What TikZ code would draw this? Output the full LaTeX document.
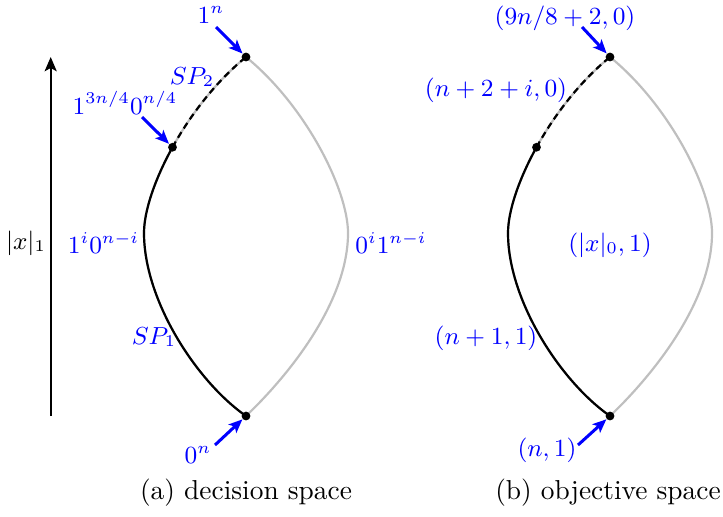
\documentclass[tikz,border=0pt]{standalone}
\usetikzlibrary{arrows.meta}
\newcommand{\lenspanel}[1]{%
  \coordinate (#1B) at (246,416);
  \coordinate (#1M) at (172.5,147.25);
  \coordinate (#1T) at (246,57);
  \coordinate (#1L) at (144,233);
  \coordinate (#1R) at (348,233);
  \draw[lensline] (#1B) .. controls (196,381) and (144,300) .. (#1L)
                        .. controls (144,190) and (186,106) .. (#1T);
  \draw[lensline] (#1B) .. controls (292,372) and (348,300) .. (#1R)
                        .. controls (348,190) and (306,106) .. (#1T);
  \draw[spline] (#1B) .. controls (196,381) and (144,300) .. (#1L)
                      .. controls (144,211.5) and (154.5,179.75) .. (#1M);
  \draw[spdash] (#1M) .. controls (190.5,114.75) and (216,81.5) .. (#1T);
  \node[dot] (#1Bd) at (#1B) {};
  \node[dot] (#1Md) at (#1M) {};
  \node[dot] (#1Td) at (#1T) {};
}
\begin{document}
\begin{tikzpicture}[x=0.365pt,y=-0.365pt,
  dot/.style={circle,fill=black,inner sep=0pt,minimum size=3.2pt},
  lensline/.style={gray!50,line width=0.8pt},
  spline/.style={black,line width=0.8pt},
  spdash/.style={black,line width=0.8pt,dash pattern=on 2.4pt off 1.6pt},
  barrow/.style={blue,line width=1.1pt,-{Stealth[length=5pt,width=4.2pt,inset=1.2pt]}},
  axarrow/.style={black,line width=0.8pt,-{Stealth[length=5.2pt,width=4.4pt,inset=1.2pt]}},
  lab/.style={text=blue,inner sep=1pt,font=\small},
  captext/.style={inner sep=0pt}]
\useasboundingbox (0,0) rectangle (723,516);
% left panel
\lenspanel{a}
\coordinate (ax0) at (50.7,416);
\coordinate (ax1) at (50.7,57);
\draw[axarrow] (ax0) -- (ax1);
\node[font=\small] (lx) at (26,243) {$|x|_1$};
\node[lab] (l1n) at (211,15) {$1^n$};
\node[lab] (lsp2) at (192,77) {$SP_2$};
\node[lab] (l34) at (125,103) {$1^{3n/4}0^{n/4}$};
\node[lab] (li) at (103.5,243) {$1^i0^{n-i}$};
\node[lab] (lio) at (391,243) {$0^i1^{n-i}$};
\node[lab] (lsp1) at (154,337) {$SP_1$};
\node[lab] (l0n) at (198,455) {$0^n$};
\coordinate (t1n) at (216,27);
\coordinate (t34) at (142,117);
\coordinate (t0n) at (215,445);
\draw[barrow] (t1n) -- (aTd);
\draw[barrow] (t34) -- (aMd);
\draw[barrow] (t0n) -- (aBd);
\node[captext] (capa) at (246,493) {(a) decision space};
% right panel
\begin{scope}[shift={(364,0)}]
\lenspanel{b}
\end{scope}
\node[lab] (r1) at (565,18) {$(9n/8+2,0)$};
\node[lab] (r2) at (496,90) {$(n+2+i,0)$};
\node[lab] (r3) at (610,245) {$(|x|_0,1)$};
\node[lab] (r4) at (486,338) {$(n+1,1)$};
\node[lab] (r5) at (547,450) {$(n,1)$};
\coordinate (tb9) at (582,27);
\coordinate (tbn) at (578,445);
\draw[barrow] (tb9) -- (bTd);
\draw[barrow] (tbn) -- (bBd);
\node[captext] (capb) at (608,493) {(b) objective space};
\end{tikzpicture}
\end{document}
